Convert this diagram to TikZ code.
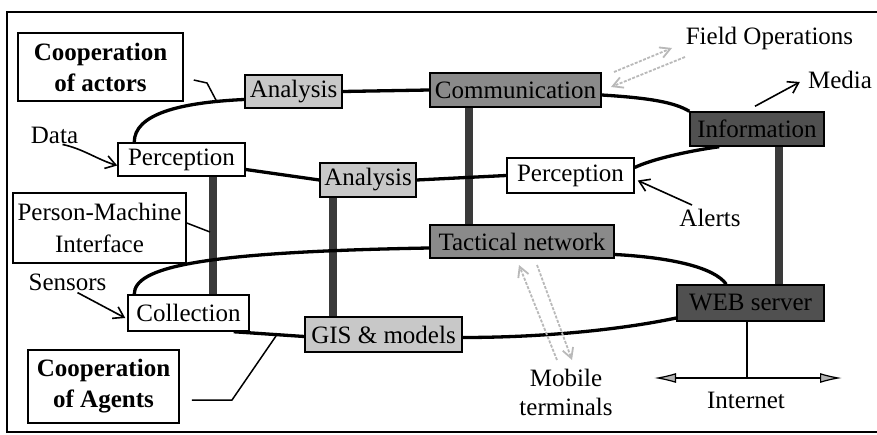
\documentclass[tikz,border=0pt]{standalone}
\usepackage{fontspec}
\setmainfont{Liberation Serif}
\usetikzlibrary{arrows.meta,backgrounds}
\definecolor{lightbox}{HTML}{C8C8C8}
\definecolor{midbox}{HTML}{8A8A8A}
\definecolor{darkbox}{HTML}{505050}
\definecolor{barcol}{HTML}{3A3A3A}
\begin{document}
\begin{tikzpicture}[x=1pt,y=-1pt,
  every node/.style={font=\fontsize{25}{30}\selectfont},
  bx/.style={draw=black,line width=1.5pt,inner sep=0pt,align=center},
  coop/.style={bx,font=\fontsize{25}{31}\selectfont\bfseries},
  pmibox/.style={bx,font=\fontsize{25}{32}\selectfont},
  lbl/.style={inner sep=0pt,align=center},
  ring/.style={line width=3.3pt,black},
  bar/.style={line width=8.5pt,barcol},
  callout/.style={line width=1.5pt,black},
  barb/.style={line width=1.6pt,-{Straight Barb[length=10pt,width=13pt]}},
  grayarr/.style={line width=1.8pt,gray!55,dash pattern=on 3pt off 1.5pt,-{Straight Barb[length=10pt,width=11pt]}},
  netarr/.style={line width=1.2pt,{Latex[length=22pt,width=10pt,fill=gray!60]}-{Latex[length=22pt,width=10pt,fill=gray!60]}}
]
\useasboundingbox (0,0) rectangle (877,435);
% frame
\draw[line width=1.6pt] (877,12) -- (7,12) -- (7,432) -- (877,432);

% boxes
\node[coop,minimum width=165,minimum height=68] (coopA) at (100.5,67) {Cooperation\\of actors};
\node[bx,fill=lightbox,minimum width=97,minimum height=33] (ana1) at (293.5,91.5) {Analysis};
\node[bx,fill=midbox,minimum width=171,minimum height=34] (comm) at (515.5,90) {Communication};
\node[bx,fill=darkbox,minimum width=134,minimum height=34] (info) at (757,129) {Information};
\node[bx,fill=white,minimum width=127,minimum height=33] (perL) at (181.5,159.5) {Perception};
\node[bx,fill=lightbox,minimum width=96,minimum height=34] (ana2) at (368,180) {Analysis};
\node[bx,fill=white,minimum width=127,minimum height=35] (perR) at (570.5,175.5) {Perception};
\node[pmibox,minimum width=173,minimum height=70] (pmi) at (99.5,228) {Person-Machine\\Interface};
\node[bx,fill=midbox,minimum width=184,minimum height=33] (tact) at (522,241.5) {Tactical network};
\node[bx,fill=darkbox,minimum width=147,minimum height=36] (web) at (750.5,303) {WEB server};
\node[bx,fill=white,minimum width=121,minimum height=36] (coll) at (188.5,313) {Collection};
\node[bx,fill=lightbox,minimum width=157,minimum height=35] (gis) at (383.5,334.5) {GIS \& models};
\node[coop,minimum width=151,minimum height=73] (coopG) at (103.5,386.5) {Cooperation\\of Agents};

% free labels
\node[lbl] (data) at (54.5,135) {Data};
\node[lbl] (sensors) at (67.5,282) {Sensors};
\node[lbl] (fieldop) at (769.5,38) {Field Operations};
\node[lbl] (media) at (840,80) {Media};
\node[lbl] (alerts) at (710,218) {Alerts};
\node[lbl,font=\fontsize{25}{29}\selectfont] (mobile) at (566,392) {Mobile\\terminals};
\node[lbl] (internet) at (746,400) {Internet};

% coordinates for free ends
\coordinate (ca1) at (207,83);
\coordinate (ca2) at (217,102);
\coordinate (pm1) at (210,232);
\coordinate (cg1) at (232,400);
\coordinate (cg2) at (276,336);
\coordinate (f1) at (614,72);
\coordinate (f2) at (672,48);
\coordinate (f3) at (685,57);
\coordinate (f4) at (611,87);
\coordinate (m1) at (557,360);
\coordinate (m2) at (519,265);
\coordinate (m3) at (537,265);
\coordinate (m4) at (572,360);
\coordinate (inetmid) at (747,378);
\coordinate (inetL) at (654,378);
\coordinate (inetR) at (842,378);

\begin{scope}[on background layer]
% vertical bars
\draw[bar] ([xshift=31.5pt]perL.south) -- ([xshift=24.5pt]coll.north);
\draw[bar] ([xshift=-35pt]ana2.south) -- ([xshift=-50.5pt]gis.north);
\draw[bar] ([xshift=-46.5pt]comm.south) -- ([xshift=-53pt]tact.north);
\draw[bar] ([xshift=22pt]info.south) -- ([xshift=28.5pt]web.north);
% top ring
\draw[ring] ([xshift=17pt]perL.north west) .. controls +(0,-28) and +(-65,3) .. ([yshift=-8pt]ana1.west);
\draw[ring] (ana1.east) -- (comm.west);
\draw[ring] ([yshift=-5pt]comm.east) .. controls +(48,3) and +(-15,-9) .. (info.north west);
\draw[ring] ([xshift=30pt]info.south west) .. controls +(-30,4) and +(16,-8) .. ([yshift=8pt]perR.east);
\draw[ring] (perR.west) -- (ana2.east);
\draw[ring] (ana2.west) -- ([yshift=-10pt]perL.east);
% bottom ring
\draw[ring] ([xshift=7pt]coll.north west) .. controls +(0,-27) and +(-230,4) .. ([yshift=-6.5pt]tact.west);
\draw[ring] ([yshift=-13pt]tact.east) .. controls +(56,3) and +(-12,-17) .. ([xshift=50pt]web.north west);
\draw[ring] ([yshift=-15pt]web.west) .. controls +(-57,12) and +(78,0) .. ([yshift=-3pt]gis.east);
\draw[ring] ([yshift=-2pt]gis.west) -- ([xshift=-16pt]coll.south east);
\end{scope}

% callouts
\draw[callout] ([xshift=10pt,yshift=-13pt]coopA.east) -- (ca1) -- (ca2);
\draw[callout] ([yshift=5pt]pmi.east) -- (pm1);
\draw[callout] ([xshift=12pt,yshift=-13.5pt]coopG.east) -- (cg1) -- (cg2);

% arrows
\draw[barb] ([xshift=8pt,yshift=-1pt]data.south) .. controls +(20,4) and +(-20,-6) .. ([yshift=-6pt]perL.west);
\draw[barb] ([xshift=10pt,yshift=-2pt]sensors.south) -- ([xshift=-2pt,yshift=-5pt]coll.west);
\draw[barb] ([xshift=-2pt,yshift=5pt]info.north) -- ([xshift=-8pt,yshift=-2pt]media.west);
\draw[barb] ([xshift=-18pt,yshift=4pt]alerts.north) -- ([xshift=3pt,yshift=-5pt]perR.east);

% field operations and mobile arrows
\draw[grayarr] (f1) -- (f2);
\draw[grayarr] (f3) -- (f4);
\draw[grayarr] (m1) -- (m2);
\draw[grayarr] (m3) -- (m4);

% internet
\draw[line width=1.2pt] ([xshift=-3.5pt]web.south) -- (inetmid);
\draw[netarr] (inetL) -- (inetR);
\end{tikzpicture}
\end{document}
